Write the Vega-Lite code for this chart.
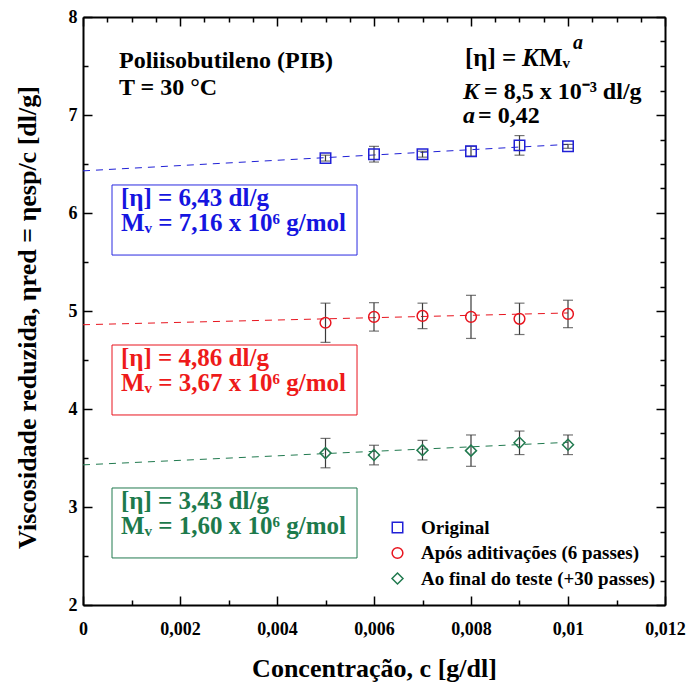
{
  "$schema": "https://vega.github.io/schema/vega-lite/v6.json",
  "width": 582,
  "height": 588,
  "autosize": "none",
  "padding": {"left": 83, "top": 17, "right": 29, "bottom": 79},
  "background": "white",
  "config": {
    "view": {"stroke": null},
    "font": "Liberation Serif",
    "text": {"font": "Liberation Serif"},
    "axis": {"domainColor": "black", "domainWidth": 2, "tickColor": "black", "tickWidth": 1.5, "grid": false, "labelFont": "Liberation Serif", "labelFontWeight": "bold", "labelFontSize": 18, "labelColor": "black", "titleFont": "Liberation Serif", "titleFontWeight": "bold", "titleFontSize": 26, "titleColor": "black"},
    "legend": {"labelFont": "Liberation Serif"}
  },
  "datasets": {
    "pts": [
      {"c": 0.005, "v": 6.56, "e": 0.03, "s": "Original"},
      {"c": 0.006, "v": 6.60, "e": 0.08, "s": "Original"},
      {"c": 0.007, "v": 6.60, "e": 0.03, "s": "Original"},
      {"c": 0.008, "v": 6.63, "e": 0.05, "s": "Original"},
      {"c": 0.009, "v": 6.69, "e": 0.10, "s": "Original"},
      {"c": 0.010, "v": 6.68, "e": 0.02, "s": "Original"},
      {"c": 0.005, "v": 4.88, "e": 0.20, "s": "Após aditivações (6 passes)"},
      {"c": 0.006, "v": 4.94, "e": 0.145, "s": "Após aditivações (6 passes)"},
      {"c": 0.007, "v": 4.95, "e": 0.13, "s": "Após aditivações (6 passes)"},
      {"c": 0.008, "v": 4.94, "e": 0.22, "s": "Após aditivações (6 passes)"},
      {"c": 0.009, "v": 4.92, "e": 0.16, "s": "Após aditivações (6 passes)"},
      {"c": 0.010, "v": 4.97, "e": 0.14, "s": "Após aditivações (6 passes)"},
      {"c": 0.005, "v": 3.55, "e": 0.15, "s": "Ao final do teste (+30 passes)"},
      {"c": 0.006, "v": 3.53, "e": 0.10, "s": "Ao final do teste (+30 passes)"},
      {"c": 0.007, "v": 3.58, "e": 0.10, "s": "Ao final do teste (+30 passes)"},
      {"c": 0.008, "v": 3.575, "e": 0.16, "s": "Ao final do teste (+30 passes)"},
      {"c": 0.009, "v": 3.655, "e": 0.12, "s": "Ao final do teste (+30 passes)"},
      {"c": 0.010, "v": 3.635, "e": 0.10, "s": "Ao final do teste (+30 passes)"}
    ],
    "fit": [
      {"c": 0, "v": 6.43, "s": "Original"},
      {"c": 0.010, "v": 6.70, "s": "Original"},
      {"c": 0, "v": 4.86, "s": "Após aditivações (6 passes)"},
      {"c": 0.010, "v": 4.98, "s": "Após aditivações (6 passes)"},
      {"c": 0, "v": 3.43, "s": "Ao final do teste (+30 passes)"},
      {"c": 0.010, "v": 3.66, "s": "Ao final do teste (+30 passes)"}
    ],
    "one": [{"k": 1}]
  },
  "layer": [
    {
      "layer": [
        {
          "data": {"name": "fit"},
          "mark": {"type": "line", "strokeDash": [7, 6], "strokeWidth": 1},
          "encoding": {
            "x": {"field": "c", "type": "quantitative", "title": "Concentração, c [g/dl]", "scale": {"domain": [0, 0.012], "nice": false, "zero": false},
              "axis": {"orient": "bottom", "values": [0,0.0005,0.001,0.0015,0.002,0.0025,0.003,0.0035,0.004,0.0045,0.005,0.0055,0.006,0.0065,0.007,0.0075,0.008,0.0085,0.009,0.0095,0.01,0.0105,0.011,0.0115,0.012],
                "labelExpr": "abs(datum.value/0.002 - round(datum.value/0.002)) < 0.001 ? replace(format(datum.value, '~g'), '.', ',') : ''",
                "tickSize": {"condition": {"test": "abs(datum.value/0.002 - round(datum.value/0.002)) < 0.001", "value": -9}, "value": -5},
                "labelPadding": 24, "labelFlush": false, "labelOverlap": false, "titleY": 63, "titleBaseline": "middle"}},
            "y": {"field": "v", "type": "quantitative", "title": "Viscosidade reduzida, ηred = ηesp/c [dl/g]", "scale": {"domain": [2, 8], "nice": false, "zero": false},
              "axis": {"orient": "left", "values": [2,2.25,2.5,2.75,3,3.25,3.5,3.75,4,4.25,4.5,4.75,5,5.25,5.5,5.75,6,6.25,6.5,6.75,7,7.25,7.5,7.75,8],
                "labelExpr": "datum.value % 1 == 0 ? format(datum.value, 'd') : ''",
                "tickSize": {"condition": {"test": "datum.value % 1 == 0", "value": -9}, "value": -5},
                "labelPadding": 15, "labelFlush": false, "labelOverlap": false, "titleX": -56, "titleY": 300, "titleBaseline": "middle", "titleAlign": "center", "titleAngle": -90}},
            "color": {"field": "s", "type": "nominal", "scale": {"domain": ["Original", "Após aditivações (6 passes)", "Ao final do teste (+30 passes)"], "range": ["#2020d6", "#e8141e", "#217a4f"]}}
          }
        },
        {
          "data": {"name": "pts"},
          "mark": {"type": "errorbar", "ticks": {"size": 10, "thickness": 1.2, "color": "#3a3a3a"}, "rule": {"color": "#3a3a3a", "strokeWidth": 1.2}},
          "encoding": {
            "x": {"field": "c", "type": "quantitative", "title": "Concentração, c [g/dl]"},
            "y": {"field": "v", "type": "quantitative", "title": "Viscosidade reduzida, ηred = ηesp/c [dl/g]"},
            "yError": {"field": "e"}
          }
        },
        {
          "data": {"name": "pts"},
          "mark": {"type": "point", "filled": false, "strokeWidth": 1.5, "opacity": 1},
          "encoding": {
            "x": {"field": "c", "type": "quantitative", "title": "Concentração, c [g/dl]"},
            "y": {"field": "v", "type": "quantitative", "title": "Viscosidade reduzida, ηred = ηesp/c [dl/g]"},
            "color": {"field": "s", "type": "nominal", "scale": {"domain": ["Original", "Após aditivações (6 passes)", "Ao final do teste (+30 passes)"], "range": ["#2020d6", "#e8141e", "#217a4f"]},
              "legend": {"orient": "none", "legendX": 305, "legendY": 501, "title": null, "padding": 0, "labelFontWeight": "bold", "labelFontSize": 19, "labelColor": "black", "labelLimit": 400, "symbolSize": 80, "symbolStrokeWidth": 1.5, "symbolFillColor": "transparent", "rowPadding": 5.5, "labelOffset": 14}},
            "shape": {"field": "s", "type": "nominal", "scale": {"domain": ["Original", "Após aditivações (6 passes)", "Ao final do teste (+30 passes)"], "range": ["square", "circle", "diamond"]}},
            "size": {"field": "s", "type": "nominal", "scale": {"domain": ["Original", "Após aditivações (6 passes)", "Ao final do teste (+30 passes)"], "range": [110, 120, 110]}, "legend": null}
          }
        },
        {
          "data": {"name": "one"},
          "mark": {"type": "rect", "fill": null, "stroke": "#2a2ae0", "strokeWidth": 1},
          "encoding": {"x": {"datum": 0.000598}, "x2": {"datum": 0.00565}, "y": {"datum": 6.286}, "y2": {"datum": 5.571}}
        },
        {
          "data": {"name": "one"},
          "mark": {"type": "rect", "fill": null, "stroke": "#e8141e", "strokeWidth": 1},
          "encoding": {"x": {"datum": 0.000598}, "x2": {"datum": 0.00565}, "y": {"datum": 4.653}, "y2": {"datum": 3.939}}
        },
        {
          "data": {"name": "one"},
          "mark": {"type": "rect", "fill": null, "stroke": "#217a4f", "strokeWidth": 1},
          "encoding": {"x": {"datum": 0.000598}, "x2": {"datum": 0.00565}, "y": {"datum": 3.194}, "y2": {"datum": 2.48}}
        },
        {
          "data": {"name": "one"},
          "mark": {"type": "text", "text": "[η] = 6,43 dl/g", "align": "left", "baseline": "middle", "fontSize": 25, "fontWeight": "bold", "color": "#1515e0"},
          "encoding": {"x": {"datum": 0.000784}, "y": {"datum": 6.153}}
        },
        {
          "data": {"name": "one"},
          "mark": {"type": "text", "text": "Mᵥ = 7,16 x 10⁶ g/mol", "align": "left", "baseline": "middle", "fontSize": 25, "fontWeight": "bold", "color": "#1515e0"},
          "encoding": {"x": {"datum": 0.000784}, "y": {"datum": 5.898}}
        },
        {
          "data": {"name": "one"},
          "mark": {"type": "text", "text": "[η] = 4,86 dl/g", "align": "left", "baseline": "middle", "fontSize": 25, "fontWeight": "bold", "color": "#ee1a1a"},
          "encoding": {"x": {"datum": 0.000784}, "y": {"datum": 4.52}}
        },
        {
          "data": {"name": "one"},
          "mark": {"type": "text", "text": "Mᵥ = 3,67 x 10⁶ g/mol", "align": "left", "baseline": "middle", "fontSize": 25, "fontWeight": "bold", "color": "#ee1a1a"},
          "encoding": {"x": {"datum": 0.000784}, "y": {"datum": 4.265}}
        },
        {
          "data": {"name": "one"},
          "mark": {"type": "text", "text": "[η] = 3,43 dl/g", "align": "left", "baseline": "middle", "fontSize": 25, "fontWeight": "bold", "color": "#1d7a4c"},
          "encoding": {"x": {"datum": 0.000784}, "y": {"datum": 3.061}}
        },
        {
          "data": {"name": "one"},
          "mark": {"type": "text", "text": "Mᵥ = 1,60 x 10⁶ g/mol", "align": "left", "baseline": "middle", "fontSize": 25, "fontWeight": "bold", "color": "#1d7a4c"},
          "encoding": {"x": {"datum": 0.000784}, "y": {"datum": 2.806}}
        },
        {
          "data": {"name": "one"},
          "mark": {"type": "text", "text": "Poliisobutileno (PIB)", "align": "left", "baseline": "middle", "fontSize": 24, "fontWeight": "bold", "color": "black"},
          "encoding": {"x": {"datum": 0.000742}, "y": {"datum": 7.551}}
        },
        {
          "data": {"name": "one"},
          "mark": {"type": "text", "text": "T = 30 °C", "align": "left", "baseline": "middle", "fontSize": 24, "fontWeight": "bold", "color": "black"},
          "encoding": {"x": {"datum": 0.000742}, "y": {"datum": 7.276}}
        },
        {
          "data": {"name": "one"},
          "mark": {"type": "text", "text": "[η] =", "align": "left", "baseline": "middle", "fontSize": 25, "fontWeight": "bold", "color": "black"},
          "encoding": {"x": {"datum": 0.007876}, "y": {"datum": 7.582}}
        },
        {
          "data": {"name": "one"},
          "mark": {"type": "text", "text": "K", "align": "left", "baseline": "middle", "fontSize": 25, "fontWeight": "bold", "fontStyle": "italic", "color": "black"},
          "encoding": {"x": {"datum": 0.009052}, "y": {"datum": 7.582}}
        },
        {
          "data": {"name": "one"},
          "mark": {"type": "text", "text": "Mᵥ", "align": "left", "baseline": "middle", "fontSize": 25, "fontWeight": "bold", "color": "black"},
          "encoding": {"x": {"datum": 0.009402}, "y": {"datum": 7.582}}
        },
        {
          "data": {"name": "one"},
          "mark": {"type": "text", "text": "a", "align": "left", "baseline": "middle", "fontSize": 20, "fontWeight": "bold", "fontStyle": "italic", "color": "black"},
          "encoding": {"x": {"datum": 0.010103}, "y": {"datum": 7.735}}
        },
        {
          "data": {"name": "one"},
          "mark": {"type": "text", "text": "K", "align": "left", "baseline": "middle", "fontSize": 24, "fontWeight": "bold", "fontStyle": "italic", "color": "black"},
          "encoding": {"x": {"datum": 0.007835}, "y": {"datum": 7.235}}
        },
        {
          "data": {"name": "one"},
          "mark": {"type": "text", "text": "= 8,5 x 10⁻³ dl/g", "align": "left", "baseline": "middle", "fontSize": 24, "fontWeight": "bold", "color": "black"},
          "encoding": {"x": {"datum": 0.008268}, "y": {"datum": 7.235}}
        },
        {
          "data": {"name": "one"},
          "mark": {"type": "text", "text": "a", "align": "left", "baseline": "middle", "fontSize": 24, "fontWeight": "bold", "fontStyle": "italic", "color": "black"},
          "encoding": {"x": {"datum": 0.007835}, "y": {"datum": 6.99}}
        },
        {
          "data": {"name": "one"},
          "mark": {"type": "text", "text": "= 0,42", "align": "left", "baseline": "middle", "fontSize": 24, "fontWeight": "bold", "color": "black"},
          "encoding": {"x": {"datum": 0.008144}, "y": {"datum": 6.99}}
        }
      ]
    },
    {
      "data": {"name": "fit"},
      "mark": {"type": "point", "opacity": 0},
      "encoding": {
        "x": {"field": "c", "type": "quantitative",
          "axis": {"orient": "top", "title": null, "labels": false, "values": [0,0.0005,0.001,0.0015,0.002,0.0025,0.003,0.0035,0.004,0.0045,0.005,0.0055,0.006,0.0065,0.007,0.0075,0.008,0.0085,0.009,0.0095,0.01,0.0105,0.011,0.0115,0.012],
            "tickSize": {"condition": {"test": "abs(datum.value/0.002 - round(datum.value/0.002)) < 0.001", "value": -9}, "value": -5}}},
        "y": {"field": "v", "type": "quantitative",
          "axis": {"orient": "right", "title": null, "labels": false, "values": [2,2.25,2.5,2.75,3,3.25,3.5,3.75,4,4.25,4.5,4.75,5,5.25,5.5,5.75,6,6.25,6.5,6.75,7,7.25,7.5,7.75,8],
            "tickSize": {"condition": {"test": "datum.value % 1 == 0", "value": -9}, "value": -5}}}
      }
    }
  ],
  "resolve": {"axis": {"x": "independent", "y": "independent"}}
}
